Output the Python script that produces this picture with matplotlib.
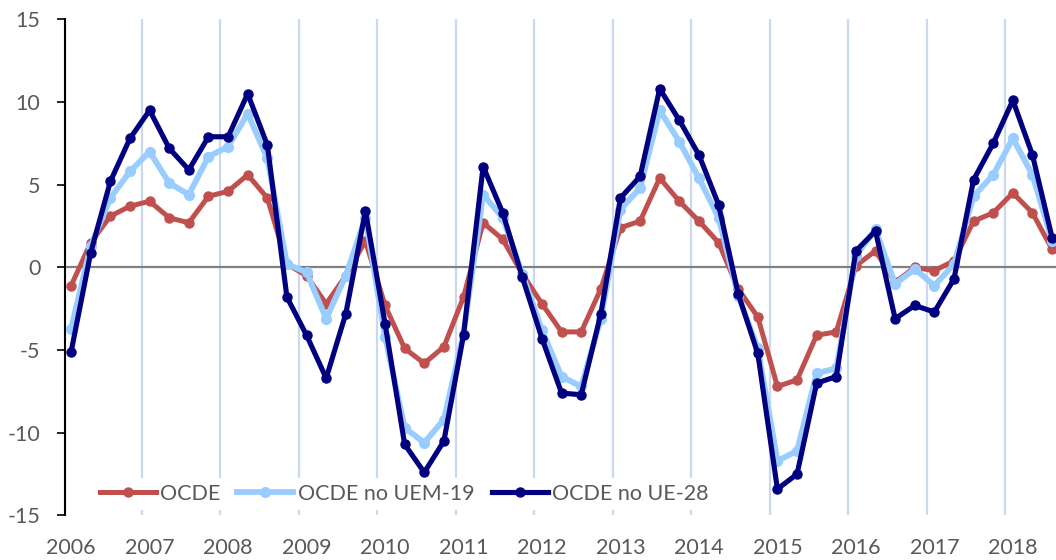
import matplotlib
matplotlib.use("Agg")
import matplotlib.pyplot as plt

plt.rcParams['font.family'] = ['Lato', 'DejaVu Sans']
plt.rcParams['axes.unicode_minus'] = False  # plain hyphen like the original

# Quarterly data, 2006Q1 .. 2018Q3
years = [str(y) for y in range(2006, 2019)]

ocde = [-1.1, 1.5, 3.1, 3.7, 4.0, 3.0, 2.7, 4.3, 4.6, 5.6,
        4.2, 0.2, -0.5, -2.2, -0.5, 1.6, -2.3, -4.9, -5.8, -4.8,
        -1.8, 2.7, 1.7, -0.4, -2.2, -3.9, -3.9, -1.3, 2.4, 2.8,
        5.4, 4.0, 2.8, 1.5, -1.3, -3.0, -7.2, -6.8, -4.1, -3.9,
        0.1, 1.0, -0.9, 0.0, -0.2, 0.4, 2.8, 3.3, 4.5, 3.3, 1.1]

ocde_no_uem = [-3.7, 1.3, 4.2, 5.8, 7.0, 5.1, 4.4, 6.7, 7.3, 9.3,
               6.6, 0.2, -0.3, -3.1, -0.5, 3.0, -4.2, -9.7, -10.6, -9.2,
               -4.0, 4.4, 3.0, -0.4, -3.8, -6.6, -7.2, -3.1, 3.5, 4.8,
               9.5, 7.6, 5.4, 3.0, -1.7, -4.9, -11.7, -11.1, -6.4, -6.1,
               0.7, 2.3, -1.0, -0.1, -1.1, 0.2, 4.3, 5.6, 7.8, 5.6, 1.6]

ocde_no_ue = [-5.1, 0.9, 5.2, 7.8, 9.5, 7.2, 5.9, 7.9, 7.9, 10.5,
              7.4, -1.8, -4.1, -6.7, -2.8, 3.4, -3.4, -10.7, -12.4, -10.5,
              -4.1, 6.1, 3.3, -0.6, -4.3, -7.6, -7.7, -2.8, 4.2, 5.5,
              10.8, 8.9, 6.8, 3.8, -1.6, -5.2, -13.4, -12.5, -7.0, -6.6,
              1.0, 2.2, -3.1, -2.3, -2.7, -0.7, 5.3, 7.5, 10.1, 6.8, 1.8]

x = list(range(len(ocde)))
text_color = '#595959'

fig = plt.figure(figsize=(10.56, 5.6), dpi=100)
ax = fig.add_axes([0.0616, 0.0795, 0.9384, 0.886])

# vertical year gridlines (between Q4 and Q1)
for k in range(1, len(years)):
    ax.axvline(4 * k - 0.4, color='#cbd9ee', linewidth=1.6, zorder=0)

# zero line
ax.axhline(0, color='#808080', linewidth=1.6, zorder=1)

ax.plot(x, ocde, color='#c0504d', linewidth=3.6, marker='o', markersize=6.5,
        label='OCDE', zorder=2)
ax.plot(x, ocde_no_uem, color='#99ccff', linewidth=4.2, marker='o', markersize=7,
        label='OCDE no UEM-19', zorder=3)
ax.plot(x, ocde_no_ue, color='#000080', linewidth=3.7, marker='o', markersize=6.5,
        label='OCDE no UE-28', zorder=4)

ax.set_xlim(-0.31, 50.2)
ax.set_ylim(-15, 15)
ax.set_yticks([-15, -10, -5, 0, 5, 10, 15])
ax.set_xticks(range(0, len(x), 4))
ax.set_xticklabels(years)

ax.tick_params(axis='y', direction='out', length=5.8, width=1.2, pad=12,
               labelsize=15.5, labelcolor=text_color)
ax.tick_params(axis='x', length=0, pad=16, labelsize=15.5, labelcolor=text_color)

for side in ['top', 'right', 'bottom']:
    ax.spines[side].set_visible(False)
ax.spines['left'].set_linewidth(1.5)
ax.spines['left'].set_color('black')

leg = ax.legend(loc='center', bbox_to_anchor=(404 / 1056, 1 - 494 / 560),
                bbox_transform=fig.transFigure, ncol=3, frameon=True,
                fontsize=15.5, handlelength=2.6, handletextpad=0.2,
                columnspacing=0.8, borderpad=0.3, numpoints=1)
leg.get_frame().set_facecolor('white')
leg.get_frame().set_edgecolor('none')
leg.get_frame().set_alpha(1)
for t in leg.get_texts():
    t.set_color(text_color)

fig.savefig('out.png', dpi=100)
